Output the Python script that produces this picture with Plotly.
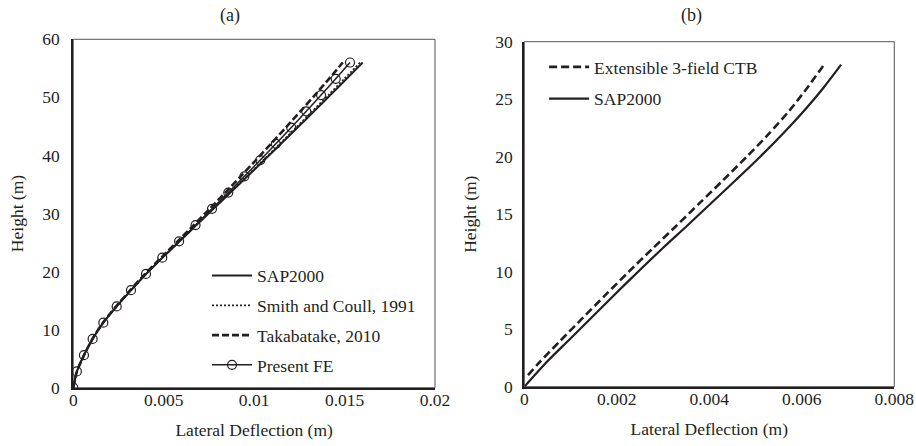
import plotly.graph_objects as go

# ---- (a) 20-storey frame: lateral deflection vs height ----
height_a = [0, 2.8, 5.6, 8.4, 11.2, 14.0, 16.8, 19.6, 22.4, 25.2, 28.0,
            30.8, 33.6, 36.4, 39.2, 42.0, 44.8, 47.6, 50.4, 53.2, 56.0]
sap2000_a = [0, 0.00020, 0.00059, 0.00107, 0.00166, 0.00240, 0.00320, 0.00404,
             0.00494, 0.00588, 0.00681, 0.00775, 0.00869, 0.00963, 0.01056,
             0.01148, 0.01240, 0.01331, 0.01421, 0.01511, 0.01600]
smith_coull = [0, 0.00020, 0.00059, 0.00107, 0.00166, 0.00240, 0.00320, 0.00403,
               0.00493, 0.00587, 0.00679, 0.00772, 0.00865, 0.00958, 0.01050,
               0.01141, 0.01231, 0.01321, 0.01410, 0.01498, 0.01585]
takabatake = [0, 0.00020, 0.00059, 0.00106, 0.00164, 0.00237, 0.00315, 0.00397,
              0.00486, 0.00577, 0.00666, 0.00754, 0.00841, 0.00926, 0.01010,
              0.01093, 0.01175, 0.01256, 0.01336, 0.01414, 0.01490]
present_fe = [0, 0.00020, 0.00059, 0.00107, 0.00166, 0.00240, 0.00319, 0.00402,
              0.00492, 0.00585, 0.00676, 0.00767, 0.00857, 0.00946, 0.01034,
              0.01120, 0.01205, 0.01288, 0.01370, 0.01451, 0.01530]

# ---- (b) 10-storey frame ----
height_b_sap = [0, 2, 4, 6, 8, 10, 12, 14, 16, 18, 20, 22, 24, 26, 28]
sap2000_b = [0, 0.00045, 0.00095, 0.00145, 0.00195, 0.00246, 0.00298, 0.00352,
             0.00405, 0.00458, 0.00510, 0.00559, 0.00605, 0.00647, 0.00685]
height_b_ctb = [1.0, 2, 4, 6, 8, 10, 12, 14, 16, 18, 20, 22, 24, 26, 28]
ctb_3field = [0.00008, 0.00030, 0.00078, 0.00127, 0.00176, 0.00226, 0.00277,
              0.00329, 0.00380, 0.00431, 0.00481, 0.00529, 0.00573, 0.00612, 0.00648]

x_ticks_a = [0, 0.005, 0.01, 0.015, 0.02]
x_tick_text_a = ["0", "0.005", "0.01", "0.015", "0.02"]
y_ticks_a = [0, 10, 20, 30, 40, 50, 60]
x_ticks_b = [0, 0.002, 0.004, 0.006, 0.008]
x_tick_text_b = ["0", "0.002", "0.004", "0.006", "0.008"]
y_ticks_b = [0, 5, 10, 15, 20, 25, 30]

FONT = "Liberation Serif"
FS = 17.5
INK = "#231f20"

fig = go.Figure()

fig.add_trace(go.Scatter(x=sap2000_a, y=height_a, name="SAP2000", mode="lines",
                         line=dict(color=INK, width=2, shape="spline", smoothing=0.6),
                         legendgroup="a1", xaxis="x", yaxis="y", legend="legend"))
fig.add_trace(go.Scatter(x=smith_coull, y=height_a, name="Smith and Coull, 1991",
                         mode="lines",
                         line=dict(color=INK, width=1.6, dash="2px,2px",
                                   shape="spline", smoothing=0.6),
                         legendgroup="a2", xaxis="x", yaxis="y", legend="legend"))
fig.add_trace(go.Scatter(x=takabatake, y=height_a, name="Takabatake, 2010",
                         mode="lines",
                         line=dict(color=INK, width=2.6, dash="7px,3px",
                                   shape="spline", smoothing=0.6),
                         legendgroup="a3", xaxis="x", yaxis="y", legend="legend"))
fig.add_trace(go.Scatter(x=present_fe, y=height_a, name="Present FE",
                         mode="lines+markers",
                         line=dict(color=INK, width=1.5, shape="spline", smoothing=0.6),
                         marker=dict(symbol="circle-open", size=9,
                                     line=dict(color=INK, width=1.2), color=INK),
                         legendgroup="a4", xaxis="x", yaxis="y", legend="legend"))

fig.add_trace(go.Scatter(x=ctb_3field, y=height_b_ctb, name="Extensible 3-field CTB",
                         mode="lines",
                         line=dict(color=INK, width=2.6, dash="8px,4px",
                                   shape="spline", smoothing=0.8),
                         legendgroup="b1", xaxis="x2", yaxis="y2", legend="legend2"))
fig.add_trace(go.Scatter(x=sap2000_b, y=height_b_sap, name="SAP2000", mode="lines",
                         line=dict(color=INK, width=2.2, shape="spline", smoothing=0.8),
                         legendgroup="b2", xaxis="x2", yaxis="y2", legend="legend2"))

axis_common = dict(showgrid=False, zeroline=False, showline=True, linecolor=INK,
                   linewidth=2, ticks="", automargin=False,
                   tickfont=dict(family=FONT, size=FS, color=INK),
                   title_font=dict(family=FONT, size=FS, color=INK))

fig.update_layout(
    width=916, height=446,
    margin=dict(l=0, r=0, t=0, b=0),
    paper_bgcolor="white", plot_bgcolor="white",
    font=dict(family=FONT, size=FS, color=INK),
    showlegend=True,
    xaxis=dict(domain=[0.080, 0.4749], range=[0, 0.02], tickvals=x_ticks_a,
               ticktext=x_tick_text_a, anchor="y", ticklabelstandoff=-5,
               title=dict(text="Lateral Deflection (m)", standoff=15), **axis_common),
    yaxis=dict(domain=[0.1307, 0.9119], range=[0, 60], tickvals=y_ticks_a,
               anchor="x", ticklabelstandoff=8,
               title=dict(text="Height (m)", standoff=14), **axis_common),
    xaxis2=dict(domain=[0.5724, 0.9763], range=[0, 0.008], tickvals=x_ticks_b,
                ticktext=x_tick_text_b, anchor="y2", ticklabelstandoff=-5,
                title=dict(text="Lateral Deflection (m)", standoff=15), **axis_common),
    yaxis2=dict(domain=[0.1330, 0.9065], range=[0, 30], tickvals=y_ticks_b,
                anchor="x2", ticklabelstandoff=6,
                title=dict(text="Height (m)", standoff=14), **axis_common),
    legend=dict(x=0.226, y=0.282, xanchor="left", yanchor="middle",
                bgcolor="rgba(0,0,0,0)", tracegroupgap=4, itemwidth=40,
                font=dict(family=FONT, size=FS, color=INK)),
    legend2=dict(x=0.594, y=0.814, xanchor="left", yanchor="middle",
                 bgcolor="rgba(0,0,0,0)", tracegroupgap=6, itemwidth=40,
                 font=dict(family=FONT, size=FS, color=INK)),
    annotations=[
        dict(text="(a)", x=0.2514, y=0.966, xref="paper", yref="paper",
             xanchor="center", yanchor="middle", showarrow=False,
             font=dict(family=FONT, size=18, color=INK)),
        dict(text="(b)", x=0.7544, y=0.966, xref="paper", yref="paper",
             xanchor="center", yanchor="middle", showarrow=False,
             font=dict(family=FONT, size=18, color=INK)),
    ],
    shapes=[
        dict(type="rect", xref="x domain", yref="y domain", x0=0, x1=1, y0=0, y1=1,
             line=dict(color="#555", width=1), layer="below"),
        dict(type="rect", xref="x2 domain", yref="y2 domain", x0=0, x1=1, y0=0, y1=1,
             line=dict(color="#555", width=1), layer="below"),
    ],
)

fig.write_html("out.html")
